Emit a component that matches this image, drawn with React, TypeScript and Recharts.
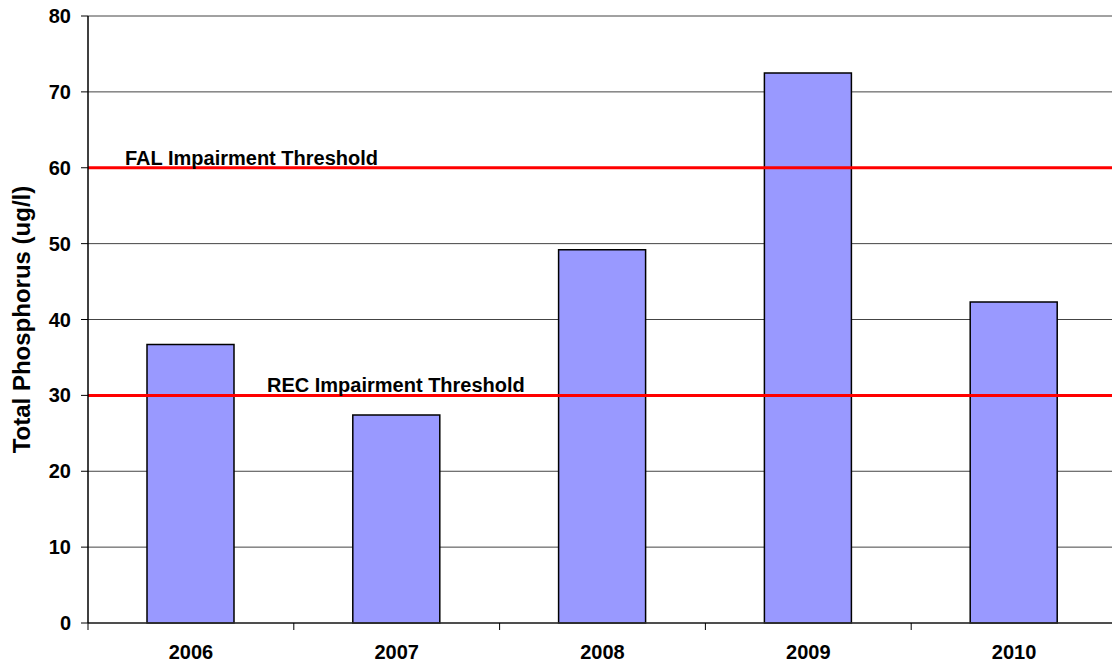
import { BarChart, Bar, XAxis, YAxis, CartesianGrid, ReferenceLine } from "recharts";

const YEARS = ["2006", "2007", "2008", "2009", "2010"];
const PHOSPHORUS = [36.7, 27.4, 49.2, 72.5, 42.3];
const Y_TICKS = [0, 10, 20, 30, 40, 50, 60, 70, 80];
const BOUNDARY_TICKS = [0, 1, 2, 3, 4, 5];
const THRESHOLDS = [
  { value: 60, label: "FAL Impairment Threshold", dx: 37 },
  { value: 30, label: "REC Impairment Threshold", dx: 179 },
];

const FONT = "'Liberation Sans', Arial, sans-serif";
const TXT = { fontFamily: FONT, fontSize: 20, fontWeight: 700, fill: "#000" } as const;

// slot = category index centre, only used by the boundary-tick axis
const data = YEARS.map((year, i) => ({ year, tp: PHOSPHORUS[i], slot: i + 0.5 }));

function YearTick(props: { x?: number; y?: number; payload?: { value: string } }) {
  return (
    <text x={props.x} y={(props.y ?? 0) + 28} textAnchor="middle" style={TXT}>
      {props.payload?.value}
    </text>
  );
}

function ValueTick(props: { x?: number; y?: number; payload?: { value: number } }) {
  return (
    <text x={(props.x ?? 0) - 8} y={(props.y ?? 0) + 7} textAnchor="end" style={TXT}>
      {props.payload?.value}
    </text>
  );
}

export default function App() {
  return (
    <div
      style={{
        position: "absolute",
        left: 0,
        top: 0,
        width: 1112,
        height: 669,
        overflow: "hidden",
        background: "#fff",
      }}
    >
      <BarChart
        width={1140}
        height={669}
        data={data}
        margin={{ top: 16, right: 23, left: 28, bottom: 0 }}
        barSize={87}
      >
        <CartesianGrid stroke="#444" strokeWidth={1} vertical={false} xAxisId={1} />
        <XAxis
          xAxisId={0}
          dataKey="slot"
          type="number"
          domain={[0, 5]}
          allowDataOverflow
          ticks={BOUNDARY_TICKS}
          tick={() => <g />}
          tickSize={7}
          tickLine={{ stroke: "#000" }}
          axisLine={{ stroke: "#333", strokeWidth: 1.5 }}
          height={8}
        />
        <XAxis
          xAxisId={1}
          dataKey="year"
          tick={YearTick}
          tickLine={false}
          tickSize={0}
          tickMargin={0}
          axisLine={false}
          interval={0}
          height={38}
        />
        <YAxis
          domain={[0, 80]}
          ticks={Y_TICKS}
          tick={ValueTick}
          tickSize={7}
          tickLine={{ stroke: "#000" }}
          axisLine={{ stroke: "#000", strokeWidth: 1.5 }}
          width={60}
          label={() => (
            <text
              x={30}
              y={319.5}
              textAnchor="middle"
              transform="rotate(-90 30 319.5)"
              style={{ ...TXT, fontSize: 24 }}
            >
              Total Phosphorus (ug/l)
            </text>
          )}
        />
        <Bar
          dataKey="tp"
          xAxisId={1}
          fill="#9999FF"
          stroke="#000"
          strokeWidth={1.5}
          isAnimationActive={false}
        />
        {THRESHOLDS.map((t) => (
          <ReferenceLine
            key={t.label}
            y={t.value}
            xAxisId={1}
            stroke="#FF0000"
            strokeWidth={3}
            label={(props: { viewBox?: { x: number; y: number } }) => (
              <text
                x={(props.viewBox?.x ?? 0) + t.dx}
                y={(props.viewBox?.y ?? 0) - 3}
                style={TXT}
              >
                {t.label}
              </text>
            )}
          />
        ))}
      </BarChart>
    </div>
  );
}
